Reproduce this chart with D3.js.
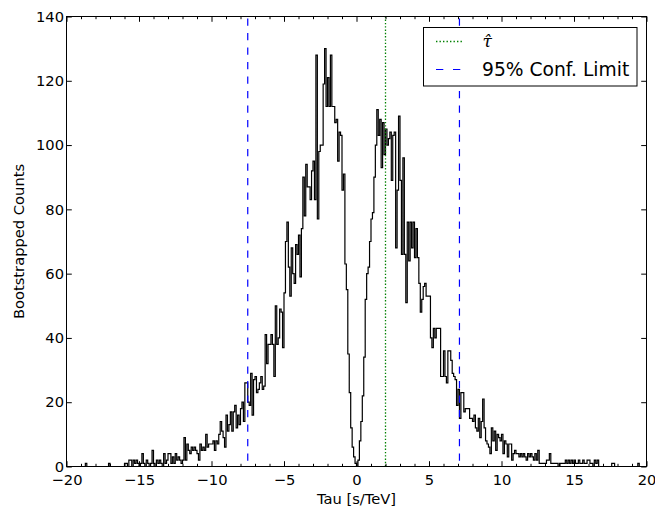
<!DOCTYPE html>
<html>
<head>
<meta charset="utf-8">
<script src="https://cdn.jsdelivr.net/npm/d3@7"></script>
<style>
  html, body { margin: 0; padding: 0; background: #fff; }
  svg { display: block; font-family: "DejaVu Sans", sans-serif; }
</style>
</head>
<body>
<svg id="chart" width="655" height="508"></svg>
<script>
// Histogram of bootstrapped tau estimates: bins of 0.1 s/TeV from -20 to 20
const binStart = -20;
const binWidth = 0.1;
const counts = [
  0,0,0,0,0,0,0,0,0,0,            // -20
  0,0,0,1,0,0,0,0,0,0,            // -19
  0,0,0,0,0,0,0,0,0,1,            // -18
  0,0,0,0,0,0,0,0,0,0,            // -17
  1,1,0,2,2,0,2,1,2,1,            // -16
  0,1,4,1,0,2,1,0,1,5,            // -15
  1,0,2,1,2,1,0,4,1,2,            // -14
  4,4,1,3,1,4,2,3,2,1,            // -13
  2,9,2,7,5,4,6,5,6,5,            // -12
  4,2,7,5,6,5,10,6,7,7,           // -11
  7,8,5,8,7,10,14,11,9,6,         // -10
  16,11,13,17,11,17,19,12,16,13,  // -9
  18,20,14,26,26,20,19,29,16,27,  // -8
  28,23,24,26,28,24,25,41,32,38,  // -7
  38,41,38,28,50,38,40,49,48,37,  // -6
  54,70,76,62,53,68,60,57,69,66,  // -5
  72,59,74,90,78,94,87,87,83,92,  // -4
  95,83,128,77,98,100,100,119,130,112, // -3
  121,112,128,112,112,107,108,95,104,103, // -2
  86,91,63,55,35,23,12,6,3,1,     // -1
  0,2,8,14,22,34,52,60,62,70,     // 0
  77,79,90,100,111,103,108,93,107,97, // 1
  105,100,102,104,89,103,104,68,86,109, // 2
  89,66,96,66,51,76,64,76,68,76,  // 3
  65,74,65,57,48,52,56,57,53,53,  // 4
  53,40,37,43,40,43,43,43,28,28,  // 5
  36,28,26,36,36,33,29,28,27,19,  // 6
  24,15,23,23,17,18,18,18,15,15,  // 7
  14,16,12,11,15,9,14,21,12,8,    // 8
  7,6,4,12,8,11,5,10,9,8,         // 9
  10,4,8,7,3,7,7,2,4,5,           // 10
  4,4,3,4,3,4,3,2,4,3,            // 11
  4,3,2,4,2,5,1,1,1,1,            // 12
  1,2,2,4,1,1,1,1,1,0,            // 13
  1,1,1,1,2,1,2,1,2,1,            // 14
  2,1,1,2,1,1,2,1,1,2,            // 15
  2,1,1,0,2,1,2,0,0,0,            // 16
  0,0,0,0,0,0,1,1,0,0,            // 17
  0,0,0,0,0,0,0,0,0,0,            // 18
  0,0,0,0,1,0,0,0,0,0             // 19
];

// Point estimate and 95% confidence limits
const tauHat = 2.0;
const confLimits = [-7.5, 7.1];

// Axes
const xDomain = [-20, 20];
const yDomain = [0, 140];
const xTicks = [-20, -15, -10, -5, 0, 5, 10, 15, 20];
const xMinorTicks = [-19,-18,-17,-16,-14,-13,-12,-11,-9,-8,-7,-6,-4,-3,-2,-1,
                     1,2,3,4,6,7,8,9,11,12,13,14,16,17,18,19];
const yTicks = [0, 20, 40, 60, 80, 100, 120, 140];
const xLabel = "Tau [s/TeV]";
const yLabel = "Bootstrapped Counts";
const legendLabels = ["\u03C4\u0302", "95% Conf. Limit"];

const svg = d3.select("#chart");
const plot = { left: 66.5, right: 646.5, top: 16.5, bottom: 466.5 };

const x = d3.scaleLinear().domain(xDomain).range([plot.left, plot.right]);
const y = d3.scaleLinear().domain(yDomain).range([plot.bottom, plot.top]);

const fmt = d => d < 0 ? "\u2212" + Math.abs(d) : String(d);

// step outline of the histogram
const pts = [[binStart, 0]];
counts.forEach((c, i) => {
  const x0 = binStart + i * binWidth;
  pts.push([x0, c], [x0 + binWidth, c]);
});
pts.push([binStart + counts.length * binWidth, 0]);

svg.append("path")
  .attr("d", d3.line().x(d => x(d[0])).y(d => y(d[1]))(pts))
  .attr("fill", "none")
  .attr("stroke", "#000")
  .attr("stroke-width", 1.2)
  .attr("stroke-linejoin", "miter");

// vertical reference lines
svg.append("line")
  .attr("x1", x(tauHat)).attr("x2", x(tauHat))
  .attr("y1", y(yDomain[0])).attr("y2", y(yDomain[1]))
  .attr("stroke", "#008000").attr("stroke-width", 1.3)
  .attr("stroke-dasharray", "1.4,1.9");

svg.selectAll("line.conf").data(confLimits).enter().append("line")
  .attr("class", "conf")
  .attr("x1", d => x(d)).attr("x2", d => x(d))
  .attr("y1", y(yDomain[1])).attr("y2", y(yDomain[0]))
  .attr("stroke", "#0000ff").attr("stroke-width", 1.2)
  .attr("stroke-dasharray", "7.3,7.2")
  .attr("stroke-dashoffset", -2);

// axes: ticks pointing inward on all four sides
function styleAxis(g) {
  g.select(".domain").remove();
  g.selectAll(".tick line").attr("stroke", "#000").attr("stroke-width", 1);
  g.selectAll(".tick text")
    .attr("fill", "#000")
    .style("font-family", "'DejaVu Sans', sans-serif")
    .style("font-size", "14.7px");
}

svg.append("g").attr("transform", `translate(0,${plot.bottom})`)
  .call(d3.axisBottom(x).tickValues(xTicks).tickSize(-5.3).tickPadding(8.5).tickFormat(fmt))
  .call(styleAxis);
svg.append("g").attr("transform", `translate(0,${plot.bottom})`)
  .call(d3.axisBottom(x).tickValues(xMinorTicks).tickSize(-2.7).tickFormat(""))
  .call(styleAxis);
svg.append("g").attr("transform", `translate(0,${plot.top})`)
  .call(d3.axisTop(x).tickValues(xTicks).tickSize(-5.3).tickFormat(""))
  .call(styleAxis);
svg.append("g").attr("transform", `translate(0,${plot.top})`)
  .call(d3.axisTop(x).tickValues(xMinorTicks).tickSize(-2.7).tickFormat(""))
  .call(styleAxis);
svg.append("g").attr("transform", `translate(${plot.left},0)`)
  .call(d3.axisLeft(y).tickValues(yTicks).tickSize(-5.3).tickPadding(2.5).tickFormat(fmt))
  .call(styleAxis);
svg.append("g").attr("transform", `translate(${plot.right},0)`)
  .call(d3.axisRight(y).tickValues(yTicks).tickSize(-5.3).tickFormat(""))
  .call(styleAxis);

// frame
svg.append("rect")
  .attr("x", plot.left).attr("y", plot.top)
  .attr("width", plot.right - plot.left).attr("height", plot.bottom - plot.top)
  .attr("fill", "none").attr("stroke", "#000").attr("stroke-width", 1);

// axis titles
svg.append("text")
  .attr("x", (plot.left + plot.right) / 2).attr("y", 503.5)
  .attr("text-anchor", "middle")
  .style("font-size", "14.7px")
  .text(xLabel);

svg.append("text")
  .attr("transform", `translate(24,${(plot.top + plot.bottom) / 2}) rotate(-90)`)
  .attr("text-anchor", "middle")
  .style("font-size", "14.7px")
  .text(yLabel);

// legend
const lg = svg.append("g");
lg.append("rect")
  .attr("x", 423.5).attr("y", 27.5).attr("width", 213.5).attr("height", 58.5)
  .attr("fill", "#fff").attr("stroke", "#000").attr("stroke-width", 1);

lg.append("line")
  .attr("x1", 436).attr("x2", 462).attr("y1", 41.5).attr("y2", 41.5)
  .attr("stroke", "#008000").attr("stroke-width", 1.3)
  .attr("stroke-dasharray", "1.4,2.1");
lg.append("line")
  .attr("x1", 436).attr("x2", 461).attr("y1", 69.5).attr("y2", 69.5)
  .attr("stroke", "#0000ff").attr("stroke-width", 1.2)
  .attr("stroke-dasharray", "7.3,9.7");

// tau with a combining hat accent
lg.append("text")
  .attr("x", 482.5).attr("y", 46.5)
  .style("font-family", "'DejaVu Serif', serif")
  .style("font-style", "italic")
  .style("font-size", "17px")
  .text(legendLabels[0]);

lg.append("text")
  .attr("x", 482).attr("y", 76)
  .style("font-size", "18.7px")
  .text(legendLabels[1]);
</script>
</body>
</html>
